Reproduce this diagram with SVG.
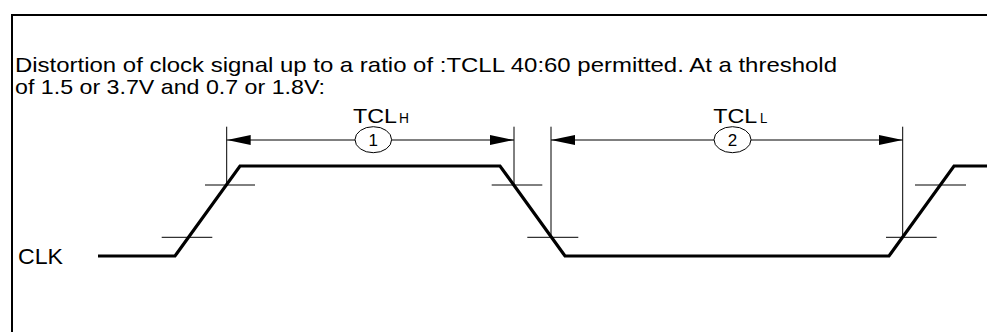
<svg xmlns="http://www.w3.org/2000/svg" width="987" height="332" viewBox="0 0 987 332">
<style>
text{font-family:"Liberation Sans",Arial,sans-serif;fill:#000}
.thin{stroke:#000;stroke-width:1;fill:none}
.sig{stroke:#000;stroke-width:3.2;fill:none;stroke-linejoin:miter}
.frame{stroke:#000;stroke-width:2;fill:none}
.dim{stroke:#000;stroke-width:1;fill:none;marker-start:url(#ah);marker-end:url(#ah)}
</style>
<defs>
<marker id="ah" markerUnits="userSpaceOnUse" markerWidth="24" markerHeight="10" refX="24" refY="5" orient="auto-start-reverse" viewBox="0 0 24 10">
<path d="M0,0 L24,5 L0,10 z" fill="#000"/>
</marker>
</defs>
<rect width="987" height="332" fill="#fff"/>
<g id="frame"><path class="frame" d="M12,332 V15 H987"/></g>
<g id="caption">
<text x="15" y="72" font-size="21" textLength="822" lengthAdjust="spacingAndGlyphs">Distortion of clock signal up to a ratio of :TCLL 40:60 permitted. At a threshold</text>
<text x="15" y="93.5" font-size="21" textLength="310" lengthAdjust="spacingAndGlyphs">of 1.5 or 3.7V and 0.7 or 1.8V:</text>
</g>
<g id="clk-label"><text x="18" y="264" font-size="22" textLength="45" lengthAdjust="spacingAndGlyphs">CLK</text></g>
<g id="clk-signal"><path class="sig" d="M98,256 L175,256 L240,166 L500,166 L565,256 L889,256 L954,166 L987,166"/></g>
<g id="thresholds">
<path class="thin" d="M205,185 H255 M491.7,185 H542.3 M915,185 H966 M161.7,237.3 H212.3 M527.3,237.3 H578.3 M886,237.3 H936.7"/>
</g>
<g id="connectors">
<path class="thin" d="M226.7,126.7 V185 M514,126.7 V185 M551,126.7 V237.3 M902.7,126.7 V237.3"/>
<line class="dim" x1="226.7" y1="140" x2="514" y2="140"/>
<line class="dim" x1="551" y1="140" x2="902.7" y2="140"/>
</g>
<g id="tclh">
<ellipse cx="373.3" cy="139.7" rx="18.3" ry="13" fill="#fff" stroke="#000" stroke-width="1"/>
<text x="373.3" y="146" font-size="17" text-anchor="middle">1</text>
<text x="353" y="123.3" font-size="20" textLength="44" lengthAdjust="spacingAndGlyphs">TCL</text>
<text x="399" y="123.3" font-size="15" textLength="10" lengthAdjust="spacingAndGlyphs">H</text>
</g>
<g id="tcll">
<ellipse cx="732.5" cy="139.7" rx="18.5" ry="13" fill="#fff" stroke="#000" stroke-width="1"/>
<text x="732.5" y="146" font-size="17" text-anchor="middle">2</text>
<text x="713.3" y="123.3" font-size="20" textLength="44" lengthAdjust="spacingAndGlyphs">TCL</text>
<text x="760" y="123.3" font-size="15" textLength="7.3" lengthAdjust="spacingAndGlyphs">L</text>
</g>
</svg>
